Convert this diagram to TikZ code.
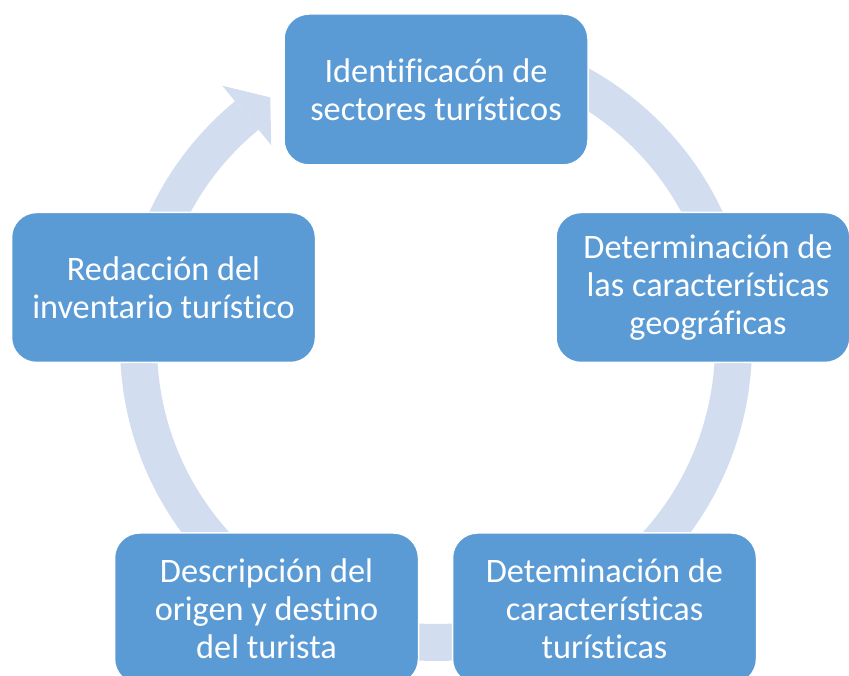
\documentclass[tikz,border=0pt]{standalone}
\usepackage{fontspec}
\setmainfont[Ligatures=NoCommon]{Carlito}
\usetikzlibrary{calc}
\definecolor{boxblue}{HTML}{5B9BD5}
\definecolor{ringblue}{HTML}{D2DEEF}
\begin{document}
\begin{tikzpicture}[x=1pt,y=1pt,
  stepbox/.style={fill=boxblue, draw=white, line width=1.5pt, rounded corners=25pt,
    minimum width=304pt, minimum height=151pt, inner sep=0pt},
  lbl/.style={text=white, align=center, font=\fontsize{34.3}{38}\selectfont, inner sep=0pt},
  ringband/.style={draw=ringblue, line width=37pt}]
\useasboundingbox (0,0) rectangle (849,676);
\clip (0,0) rectangle (849,676);
\coordinate (C) at (436,331);
% cycle ring
\draw[ringband] ($(C)+(129.5:297.5)$) arc[start angle=129.5, end angle=435, radius=297.5];
\fill[ringblue] ($(C)+(129.5:259)$) -- ($(C)+(129.5:336)$) -- ($(C)+(123.8:298)$) -- cycle;
% boxes
\node[stepbox, lbl] (n1) at (436,586.5) {Identificacón de\\sectores turísticos};
\node[stepbox, minimum width=294pt, minimum height=150pt] (n2) at (703,388.5) {};
\node[lbl] (n2t) at (708,388.5) {Determinación de\\las características\\geográficas};
\node[stepbox, lbl] (n3) at (604.5,67.5) {Deteminación de\\características\\turísticas};
\node[stepbox, lbl] (n4) at (266.5,67.5) {Descripción del\\origen y destino\\del turista};
\node[stepbox, lbl, minimum height=150pt] (n5) at (163.5,388.5) {Redacción del\\inventario turístico};
\end{tikzpicture}
\end{document}
